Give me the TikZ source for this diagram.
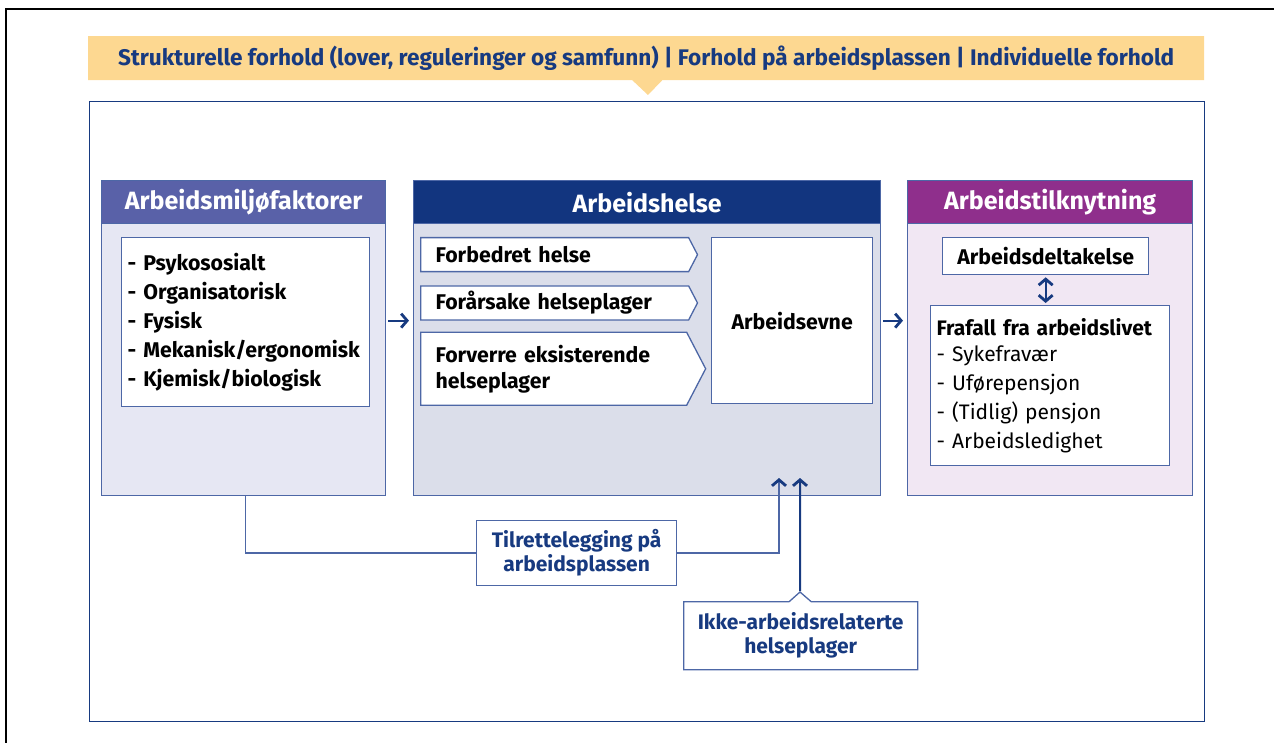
\documentclass[tikz,border=0pt]{standalone}
\usepackage{fontspec}
\setmainfont{Fira Sans}
\usetikzlibrary{positioning,arrows.meta,shapes.symbols,shapes.callouts}
\definecolor{navy}{HTML}{173A80}
\definecolor{headblue}{HTML}{5961A8}
\definecolor{headnavy}{HTML}{12357F}
\definecolor{headpurple}{HTML}{8F2F8C}
\definecolor{lightblue}{HTML}{E6E7F3}
\definecolor{greyblue}{HTML}{DBDEEA}
\definecolor{lightpurple}{HTML}{F1E7F3}
\definecolor{bannergold}{HTML}{FDD891}
\definecolor{edgeblue}{HTML}{4D67A6}
\tikzset{panel/.style={rectangle,draw=edgeblue,line width=1.3pt,anchor=north west,minimum height=315pt,inner sep=0pt},
  head/.style={rectangle,draw=edgeblue,line width=1.3pt,anchor=north west,minimum height=43pt,inner sep=0pt,text=white,font=\fontsize{25}{29}\selectfont\bfseries},
  item box/.style={rectangle,draw=edgeblue,fill=white,line width=1.3pt,anchor=north west,inner sep=7pt,font=\fontsize{21.3}{29}\selectfont\bfseries},
  chevron/.style={signal,signal to=east,signal pointer angle=125,draw=edgeblue,fill=white,line width=1.3pt,anchor=north west,inner xsep=15pt,inner ysep=0pt,align=left,font=\fontsize{21.3}{26}\selectfont\bfseries},
  note box/.style={rectangle,draw=edgeblue,fill=white,line width=1.3pt,anchor=north west,inner sep=0pt,align=center,text=navy,font=\fontsize{21}{24}\selectfont\bfseries},
  flow/.style={navy,line width=2pt,-{Straight Barb[length=6pt,width=14pt,line width=2.8pt]}},
  link/.style={edgeblue,line width=1.5pt},
}
\begin{document}
\begin{tikzpicture}[x=1pt,y=-1pt]
\useasboundingbox (0,0) rectangle (1274,743);
\draw[black,line width=1.2pt] (6,743) |- (1274,9);

% kontekst
\node[rectangle callout,fill=bannergold,anchor=north west,minimum width=1116pt,minimum height=44pt,inner sep=0pt,
  callout absolute pointer={(648,95)},callout pointer width=30pt,text=navy,font=\fontsize{22.6}{26}\selectfont\bfseries]
  (kontekst) at (88,36) {Strukturelle forhold (lover, reguleringer og samfunn) | Forhold på arbeidsplassen | Individuelle forhold};
\node[rectangle,draw=navy,line width=1.3pt,anchor=north west,minimum width=1115pt,minimum height=620pt] (ramme) at (89,101) {};

% tre paneler
\node[panel,minimum width=284pt,fill=lightblue] (miljo) at (101,180) {};
\node[head,minimum width=284pt,fill=headblue] (miljohode) at (101,180) {Arbeidsmiljøfaktorer};
\node[panel,minimum width=467pt,fill=greyblue] (helse) at (413,180) {};
\node[head,minimum width=467pt,fill=headnavy] (helsehode) at (413,180) {Arbeidshelse};
\node[panel,minimum width=285pt,fill=lightpurple] (tilknytning) at (907,180) {};
\node[head,minimum width=285pt,fill=headpurple] (tilknytninghode) at (907,180) {Arbeidstilknytning};

% innhold
\node[item box,minimum width=248pt,minimum height=169pt,text width=236pt,align=left,inner xsep=6pt] (faktorer) at (121,237)
  {- Psykososialt\\- Organisatorisk\\- Fysisk\\- Mekanisk/ergonomisk\\- Kjemisk/biologisk};

\node[chevron,minimum height=34pt,text width=238pt] (forbedret) at (420,237) {Forbedret helse};
\node[chevron,minimum height=34pt,text width=238pt,below=13pt of forbedret.south west,anchor=north west] (forarsake) {Forårsake helseplager};
\node[chevron,minimum height=73pt,text width=236pt,below=11pt of forarsake.south west,anchor=north west] (forverre) {Forverre eksisterende\\helseplager};
\node[item box,minimum width=161pt,minimum height=166pt] (evne) at (711,237) {Arbeidsevne};

\node[item box,minimum width=206pt,minimum height=37pt,inner sep=0pt] (deltakelse) at (942,237) {Arbeidsdeltakelse};
\node[item box,minimum width=239pt,minimum height=160pt,text width=227pt,align=left,inner xsep=6pt,font=\fontsize{21}{29}\selectfont] (frafall) at (930,305)
  {\textbf{Frafall fra arbeidslivet}\\[-3pt]- Sykefravær\\- Uførepensjon\\- (Tidlig) pensjon\\- Arbeidsledighet};

% tiltak og andre plager
\node[note box,minimum width=200pt,minimum height=65pt] (tilrettelegging) at (476,520) {Tilrettelegging på\\arbeidsplassen};
\node[note box,rectangle callout,callout absolute pointer={(800,592)},callout pointer width=22pt,minimum width=234pt,minimum height=68pt] (ikke) at (683,601) {Ikke-arbeidsrelaterte\\helseplager};

\coordinate (inn1) at (779,478);
\coordinate (inn2) at (800,478);

\draw[flow,shorten <=2pt,shorten >=4pt] (miljo.east |- evne) -- (helse.west |- evne);
\draw[flow,shorten <=2pt,shorten >=4pt] (helse.east |- evne) -- (tilknytning.west |- evne);
\draw[flow,{Straight Barb[length=6pt,width=14pt,line width=2.8pt]}-{Straight Barb[length=6pt,width=14pt,line width=2.8pt]},shorten <=2pt,shorten >=2pt] (deltakelse.south) -- (deltakelse.south |- frafall.north);
\draw[link] ([xshift=2pt]miljo.south) |- (tilrettelegging.west);
\draw[link,-{Straight Barb[length=6pt,width=14pt,line width=2.8pt,color=navy]}] (tilrettelegging.east) -| (inn1);
\draw[flow] (ikke.pointer) -- (inn2);
\end{tikzpicture}
\end{document}
